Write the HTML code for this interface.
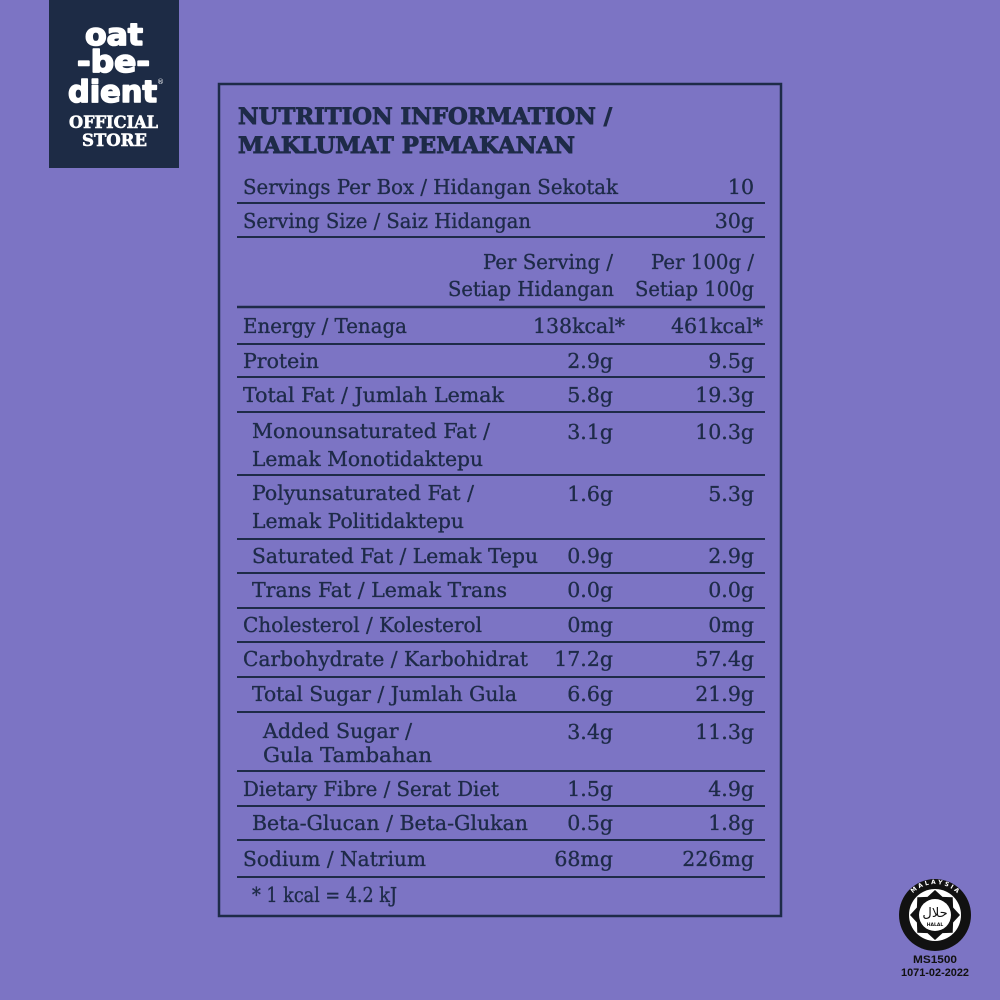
<!DOCTYPE html>
<html><head><meta charset="utf-8"><style>
html,body{margin:0;padding:0;background:#7c74c4;}
svg{display:block;}
.b{font-family:"DejaVu Serif","Liberation Serif",serif;font-size:20.5px;fill:#1e2b48;stroke:#1e2b48;stroke-width:0.35px;}
.t{font-family:"DejaVu Serif","Liberation Serif",serif;font-size:22px;font-weight:bold;fill:#1e2b48;stroke:#1e2b48;stroke-width:0.9px;}
.v{font-family:"DejaVu Serif","Liberation Serif",serif;font-size:20.5px;fill:#1e2b48;text-anchor:end;stroke:#1e2b48;stroke-width:0.35px;}
</style></head><body>
<svg width="1000" height="1000" viewBox="0 0 1000 1000" xmlns="http://www.w3.org/2000/svg">
<defs>
<path id="ring" d="M 904,915 A 31,31 0 0 1 966,915"/>
</defs>
<rect x="0" y="0" width="1000" height="1000" fill="#7c74c4"/>
<!-- logo -->
<rect x="49" y="0" width="130" height="168" fill="#1d2b45"/>
<g font-family="DejaVu Sans, Liberation Sans, sans-serif" font-weight="bold" fill="#ffffff" stroke="#ffffff" stroke-width="1.6" stroke-linejoin="round">
<text x="85" y="45" font-size="30" textLength="58" lengthAdjust="spacingAndGlyphs">oat</text>
<text x="77" y="72" font-size="30" textLength="73" lengthAdjust="spacingAndGlyphs">-be-</text>
<text x="68" y="102" font-size="30" textLength="89" lengthAdjust="spacingAndGlyphs">dient</text>
</g>
<text x="157" y="84" font-size="7" fill="#ffffff" font-family="DejaVu Sans, sans-serif">®</text>
<g font-family="DejaVu Serif, Liberation Serif, serif" font-weight="bold" fill="#ffffff" stroke="#ffffff" stroke-width="0.6">
<text x="69" y="128" font-size="17" textLength="89" lengthAdjust="spacingAndGlyphs">OFFICIAL</text>
<text x="82" y="146" font-size="17" textLength="65" lengthAdjust="spacingAndGlyphs">STORE</text>
</g>
<!-- table border -->
<rect x="219" y="84" width="562" height="832" fill="none" stroke="#1e2b48" stroke-width="2.5"/>
<text class="t" x="238" y="124" textLength="374" lengthAdjust="spacingAndGlyphs">NUTRITION INFORMATION /</text>
<text class="t" x="238" y="153" textLength="337" lengthAdjust="spacingAndGlyphs">MAKLUMAT PEMAKANAN</text>
<!-- lines -->
<g stroke="#1e2b48" stroke-width="2">
<line x1="237" y1="203" x2="765" y2="203"/>
<line x1="237" y1="237" x2="765" y2="237"/>
<line x1="237" y1="307" x2="765" y2="307" stroke-width="2.6"/>
<line x1="237" y1="344" x2="765" y2="344"/>
<line x1="237" y1="377" x2="765" y2="377"/>
<line x1="237" y1="412" x2="765" y2="412"/>
<line x1="237" y1="475" x2="765" y2="475"/>
<line x1="237" y1="539" x2="765" y2="539"/>
<line x1="237" y1="573" x2="765" y2="573"/>
<line x1="237" y1="608" x2="765" y2="608"/>
<line x1="237" y1="642" x2="765" y2="642"/>
<line x1="237" y1="677" x2="765" y2="677"/>
<line x1="237" y1="712" x2="765" y2="712"/>
<line x1="237" y1="771" x2="765" y2="771"/>
<line x1="237" y1="806" x2="765" y2="806"/>
<line x1="237" y1="840" x2="765" y2="840"/>
<line x1="237" y1="877" x2="765" y2="877"/>
</g>
<!-- labels -->
<text class="b" x="243" y="194" textLength="375" lengthAdjust="spacingAndGlyphs">Servings Per Box / Hidangan Sekotak</text>
<text class="v" x="754" y="194">10</text>
<text class="b" x="243" y="228" textLength="288" lengthAdjust="spacingAndGlyphs">Serving Size / Saiz Hidangan</text>
<text class="v" x="754" y="228">30g</text>
<text class="b" x="483" y="269" textLength="130" lengthAdjust="spacingAndGlyphs">Per Serving /</text>
<text class="b" x="448" y="296" textLength="166" lengthAdjust="spacingAndGlyphs">Setiap Hidangan</text>
<text class="b" x="651" y="269" textLength="103" lengthAdjust="spacingAndGlyphs">Per 100g /</text>
<text class="b" x="635" y="296" textLength="119" lengthAdjust="spacingAndGlyphs">Setiap 100g</text>

<text class="b" x="243" y="333" textLength="164" lengthAdjust="spacingAndGlyphs">Energy / Tenaga</text>
<text class="v" x="625" y="333">138kcal*</text>
<text class="v" x="763" y="333">461kcal*</text>

<text class="b" x="243" y="368" textLength="76" lengthAdjust="spacingAndGlyphs">Protein</text>
<text class="v" x="613" y="368">2.9g</text>
<text class="v" x="754" y="368">9.5g</text>

<text class="b" x="243" y="402" textLength="261" lengthAdjust="spacingAndGlyphs">Total Fat / Jumlah Lemak</text>
<text class="v" x="613" y="402">5.8g</text>
<text class="v" x="754" y="402">19.3g</text>

<text class="b" x="252" y="438" textLength="238" lengthAdjust="spacingAndGlyphs">Monounsaturated Fat /</text>
<text class="b" x="252" y="466" textLength="231" lengthAdjust="spacingAndGlyphs">Lemak Monotidaktepu</text>
<text class="v" x="613" y="439">3.1g</text>
<text class="v" x="754" y="439">10.3g</text>

<text class="b" x="252" y="500" textLength="222" lengthAdjust="spacingAndGlyphs">Polyunsaturated Fat /</text>
<text class="b" x="252" y="528" textLength="212" lengthAdjust="spacingAndGlyphs">Lemak Politidaktepu</text>
<text class="v" x="613" y="501">1.6g</text>
<text class="v" x="754" y="501">5.3g</text>

<text class="b" x="252" y="563" textLength="286" lengthAdjust="spacingAndGlyphs">Saturated Fat / Lemak Tepu</text>
<text class="v" x="613" y="563">0.9g</text>
<text class="v" x="754" y="563">2.9g</text>

<text class="b" x="252" y="597" textLength="255" lengthAdjust="spacingAndGlyphs">Trans Fat / Lemak Trans</text>
<text class="v" x="613" y="597">0.0g</text>
<text class="v" x="754" y="597">0.0g</text>

<text class="b" x="243" y="632" textLength="239" lengthAdjust="spacingAndGlyphs">Cholesterol / Kolesterol</text>
<text class="v" x="613" y="632">0mg</text>
<text class="v" x="754" y="632">0mg</text>

<text class="b" x="243" y="666" textLength="285" lengthAdjust="spacingAndGlyphs">Carbohydrate / Karbohidrat</text>
<text class="v" x="613" y="666">17.2g</text>
<text class="v" x="754" y="666">57.4g</text>

<text class="b" x="252" y="701" textLength="265" lengthAdjust="spacingAndGlyphs">Total Sugar / Jumlah Gula</text>
<text class="v" x="613" y="701">6.6g</text>
<text class="v" x="754" y="701">21.9g</text>

<text class="b" x="263" y="738" textLength="149" lengthAdjust="spacingAndGlyphs">Added Sugar /</text>
<text class="b" x="263" y="762" textLength="169" lengthAdjust="spacingAndGlyphs">Gula Tambahan</text>
<text class="v" x="613" y="739">3.4g</text>
<text class="v" x="754" y="739">11.3g</text>

<text class="b" x="243" y="796" textLength="256" lengthAdjust="spacingAndGlyphs">Dietary Fibre / Serat Diet</text>
<text class="v" x="613" y="796">1.5g</text>
<text class="v" x="754" y="796">4.9g</text>

<text class="b" x="252" y="830" textLength="276" lengthAdjust="spacingAndGlyphs">Beta-Glucan / Beta-Glukan</text>
<text class="v" x="613" y="830">0.5g</text>
<text class="v" x="754" y="830">1.8g</text>

<text class="b" x="243" y="866" textLength="183" lengthAdjust="spacingAndGlyphs">Sodium / Natrium</text>
<text class="v" x="613" y="866">68mg</text>
<text class="v" x="754" y="866">226mg</text>

<text class="b" x="252" y="902" font-size="18" textLength="145" lengthAdjust="spacingAndGlyphs">* 1 kcal = 4.2 kJ</text>

<!-- halal logo -->
<circle cx="935" cy="915" r="36" fill="#111111"/>
<circle cx="935" cy="915" r="26" fill="#ffffff"/>
<polygon fill="#111111" points="935,890 942.5,896.9 952.7,897.3 953.1,907.5 960,915 953.1,922.5 952.7,932.7 942.5,933.1 935,940 927.5,933.1 917.3,932.7 916.9,922.5 910,915 916.9,907.5 917.3,897.3 927.5,896.9"/>
<circle cx="935" cy="915" r="16" fill="#ffffff"/>
<text x="935" y="917" font-family="DejaVu Sans, sans-serif" font-size="13" text-anchor="middle" fill="#111111">حلال</text>
<text x="935" y="926" font-family="DejaVu Sans, sans-serif" font-size="4.5" font-weight="bold" text-anchor="middle" fill="#111111">HALAL</text>
<text font-family="DejaVu Sans, sans-serif" font-size="6" font-weight="bold" fill="#ffffff"><textPath href="#ring" startOffset="50%" text-anchor="middle">M A L A Y S I A</textPath></text>
<text x="935" y="963" font-family="Liberation Sans, sans-serif" font-weight="bold" font-size="11" text-anchor="middle" fill="#111111" textLength="44" lengthAdjust="spacingAndGlyphs">MS1500</text>
<text x="935" y="976" font-family="Liberation Sans, sans-serif" font-weight="bold" font-size="11" text-anchor="middle" fill="#111111" textLength="68" lengthAdjust="spacingAndGlyphs">1071-02-2022</text>
</svg>
</body></html>
